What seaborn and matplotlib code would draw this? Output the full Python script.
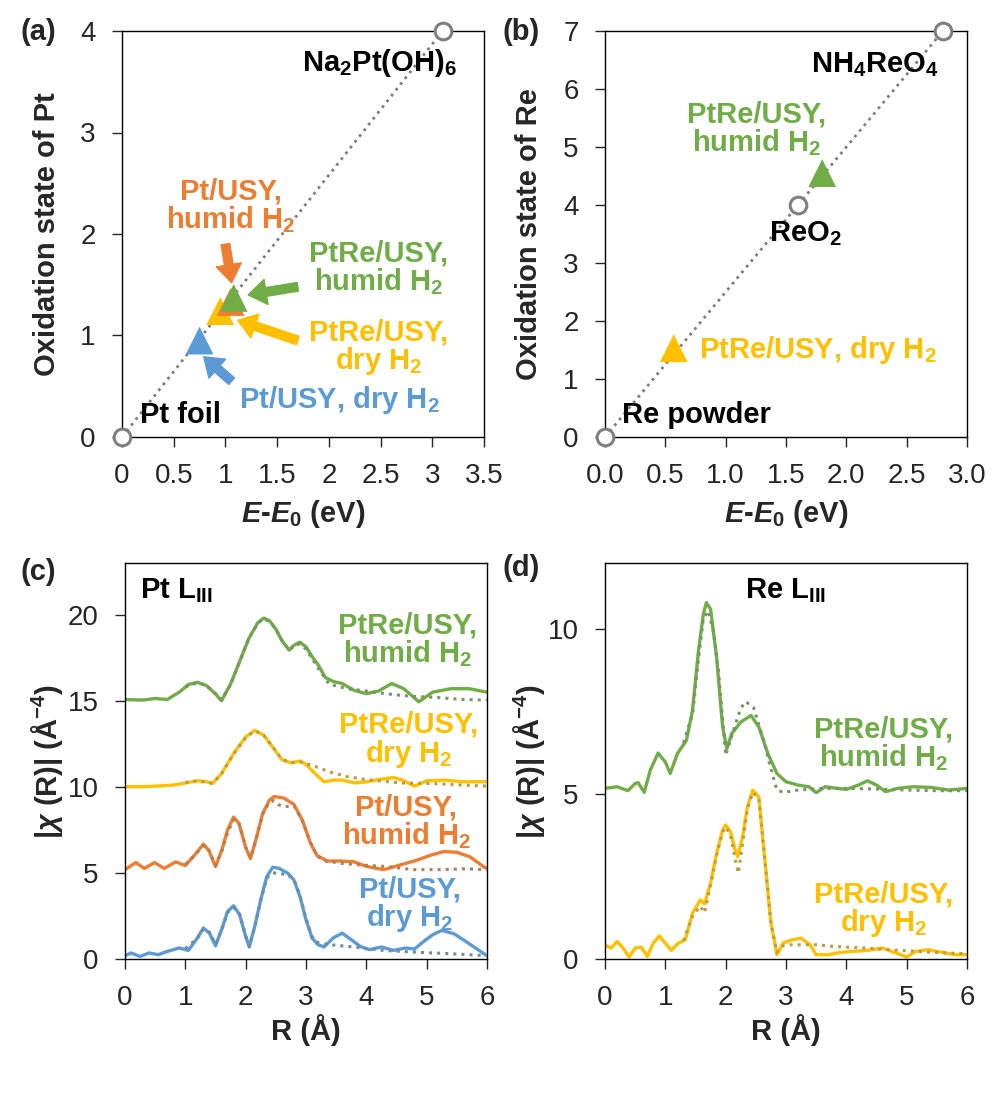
import numpy as np
import pandas as pd
import seaborn as sns
from matplotlib import pyplot as plt
from matplotlib.colors import to_rgb

sns.set_style('ticks')
plt.rcParams['font.family'] = ['Liberation Sans', 'DejaVu Sans']
plt.rcParams['mathtext.fontset'] = 'custom'
plt.rcParams['mathtext.rm'] = 'Liberation Sans:bold'
plt.rcParams['mathtext.it'] = 'Liberation Sans:italic:bold'
plt.rcParams['mathtext.bf'] = 'Liberation Sans:bold'
plt.rcParams['axes.linewidth'] = 1.0

GREEN = '#70AD47'
ORANGE = '#ED7D31'
YELLOW = '#FFC000'
BLUE = '#5B9BD5'
GRAY = '#7F7F7F'

# ---- (a) Pt L3 XANES: oxidation state vs edge shift
pt_ref_names = ['Pt foil', 'Na2Pt(OH)6']
pt_ref_e = [0.0, 3.1]
pt_ref_ox = [0.0, 4.0]
pt_samples = ['Pt/USY dry', 'PtRe/USY dry', 'Pt/USY humid', 'PtRe/USY humid']
pt_sample_e = [0.75, 0.95, 1.05, 1.08]
pt_sample_ox = [0.95, 1.24, 1.33, 1.37]

# ---- (b) Re L3 XANES
re_ref_names = ['Re powder', 'ReO2', 'NH4ReO4']
re_ref_e = [0.0, 1.6, 2.8]
re_ref_ox = [0.0, 4.0, 7.0]
re_samples = ['PtRe/USY dry', 'PtRe/USY humid']
re_sample_e = [0.57, 1.80]
re_sample_ox = [1.53, 4.55]

sample_colors = {'Pt/USY dry': BLUE, 'PtRe/USY dry': YELLOW,
                 'Pt/USY humid': ORANGE, 'PtRe/USY humid': GREEN}

# ---- (c) Pt L3 EXAFS |chi(R)|, offset curves (solid = data, dotted = fit)
c_green_r = [0.0, 0.3, 0.5, 0.7, 0.9, 1.05, 1.2, 1.35, 1.5, 1.6, 1.75, 1.9, 2.05, 2.2, 2.3, 2.4, 2.5,
             2.6, 2.72, 2.8, 2.9, 3.0, 3.1, 3.2, 3.32, 3.45, 3.6, 3.8, 4.0, 4.2, 4.42, 4.62, 4.87,
             5.1, 5.4, 5.7, 6.0]
c_green = [15.07, 15.04, 15.13, 15.07, 15.5, 15.94, 16.07, 15.88, 15.4, 15.0, 15.97, 17.28, 18.6,
           19.53, 19.8, 19.63, 19.16, 18.5, 17.94, 18.22, 18.4, 18.13, 17.57, 17.1, 16.35, 16.12,
           16.0, 15.6, 15.41, 15.56, 16.0, 15.7, 14.94, 15.5, 15.7, 15.7, 15.5]
c_green_fit_r = [1.0, 1.2, 1.35, 1.5, 1.6, 1.75, 1.9, 2.05, 2.2, 2.3, 2.4, 2.5, 2.6, 2.72, 2.8, 2.9,
                 3.0, 3.1, 3.2, 3.38, 3.68, 4.0, 4.34, 4.73, 5.17, 5.61, 6.0]
c_green_fit = [15.8, 16.05, 15.88, 15.4, 15.05, 15.95, 17.25, 18.6, 19.5, 19.75, 19.6, 19.15, 18.5,
               17.95, 18.15, 18.3, 18.0, 17.45, 16.9, 15.97, 15.7, 15.56, 15.4, 15.26, 15.19,
               15.07, 15.04]

c_yellow_r = [0.0, 0.4, 0.8, 1.0, 1.2, 1.35, 1.45, 1.6, 1.8, 2.0, 2.15, 2.3, 2.45, 2.6, 2.75, 2.9,
              3.0, 3.15, 3.3, 3.45, 3.6, 3.8, 4.0, 4.2, 4.45, 4.6, 4.8, 5.0, 5.3, 5.6, 6.0]
c_yellow = [10.0, 10.02, 10.1, 10.22, 10.35, 10.3, 10.2, 10.77, 11.93, 12.9, 13.28, 13.0, 12.3,
            11.58, 11.39, 11.5, 11.31, 10.77, 10.29, 10.39, 10.39, 10.23, 10.29, 10.42, 10.54,
            10.39, 10.04, 10.35, 10.39, 10.29, 10.3]
c_yellow_fit_r = [1.0, 1.2, 1.45, 1.6, 1.8, 2.0, 2.15, 2.3, 2.45, 2.6, 2.75, 2.9, 3.0, 3.17, 3.39,
                  3.67, 4.0, 4.55, 5.1, 5.5, 6.0]
c_yellow_fit = [10.25, 10.35, 10.2, 10.75, 11.9, 12.85, 13.25, 13.0, 12.3, 11.6, 11.4, 11.45,
                11.35, 11.16, 10.87, 10.6, 10.42, 10.23, 10.19, 10.12, 10.04]

c_orange_r = [0.0, 0.04, 0.18, 0.32, 0.49, 0.65, 0.84, 1.0, 1.15, 1.3, 1.39, 1.5, 1.61, 1.7, 1.8,
              1.89, 2.0, 2.08, 2.17, 2.28, 2.39, 2.47, 2.63, 2.8, 2.94, 3.07, 3.18, 3.35, 3.57,
              3.79, 4.01, 4.29, 4.56, 4.84, 5.06, 5.28, 5.5, 5.72, 5.94, 6.0]
c_orange = [5.2, 5.28, 5.6, 5.26, 5.6, 5.26, 5.64, 5.43, 6.02, 6.67, 6.3, 5.37, 6.39, 7.5, 8.24,
            7.87, 6.48, 5.83, 6.94, 8.43, 9.2, 9.44, 9.35, 8.98, 8.06, 6.76, 6.02, 5.69, 5.69,
            5.65, 5.37, 5.19, 5.46, 5.74, 6.02, 6.24, 6.2, 5.93, 5.37, 5.24]
c_orange_fit_r = [1.0, 1.15, 1.3, 1.39, 1.5, 1.61, 1.7, 1.8, 1.89, 2.0, 2.08, 2.17, 2.28, 2.39,
                  2.47, 2.55, 2.65, 2.8, 2.94, 3.07, 3.18, 3.3, 3.6, 3.9, 4.34, 4.78, 5.22,
                  5.66, 6.0]
c_orange_fit = [5.5, 6.0, 6.6, 6.3, 5.45, 6.3, 7.35, 8.1, 7.85, 6.5, 5.9, 6.9, 8.4, 9.1, 9.2,
                8.95, 8.85, 8.9, 8.05, 6.8, 6.0, 5.7, 5.55, 5.46, 5.37, 5.19, 5.19, 5.24, 5.19]

c_blue_r = [0.0, 0.1, 0.25, 0.4, 0.55, 0.7, 0.9, 1.05, 1.2, 1.3, 1.4, 1.5, 1.6, 1.7, 1.8, 1.9,
            2.0, 2.06, 2.15, 2.25, 2.35, 2.45, 2.55, 2.7, 2.8, 2.9, 3.0, 3.1, 3.2, 3.3, 3.45,
            3.6, 3.75, 3.9, 4.05, 4.25, 4.45, 4.65, 4.8, 4.95, 5.1, 5.25, 5.45, 5.65, 5.85, 6.0]
c_blue = [0.19, 0.35, 0.15, 0.35, 0.25, 0.44, 0.64, 0.5, 1.22, 1.8, 1.5, 0.77, 1.7, 2.76, 3.09,
          2.57, 1.31, 0.7, 1.89, 3.44, 4.79, 5.33, 5.27, 4.98, 4.59, 3.63, 2.28, 1.22, 0.83,
          0.7, 1.22, 1.5, 1.12, 0.73, 0.54, 0.7, 0.5, 0.64, 0.58, 1.02, 1.41, 1.66, 1.47, 1.02,
          0.54, 0.19]
c_blue_fit_r = [1.0, 1.2, 1.3, 1.4, 1.5, 1.6, 1.7, 1.8, 1.9, 2.0, 2.06, 2.15, 2.25, 2.35, 2.45,
                2.55, 2.7, 2.8, 2.9, 3.0, 3.1, 3.2, 3.39, 3.78, 4.28, 4.83, 5.38, 6.0]
c_blue_fit = [0.6, 1.2, 1.75, 1.55, 0.85, 1.65, 2.7, 3.0, 2.6, 1.35, 0.75, 1.85, 3.4, 4.7, 5.0,
              4.98, 4.88, 4.6, 3.7, 2.35, 1.3, 0.95, 0.83, 0.7, 0.5, 0.39, 0.31, 0.19]

# ---- (d) Re L3 EXAFS
d_green_r = [0.0, 0.2, 0.38, 0.5, 0.55, 0.65, 0.75, 0.88, 1.0, 1.08, 1.2, 1.35, 1.45, 1.55, 1.63,
             1.68, 1.75, 1.85, 1.95, 2.02, 2.1, 2.25, 2.42, 2.55, 2.7, 2.85, 3.0, 3.2, 3.38, 3.5,
             3.65, 3.85, 4.0, 4.2, 4.35, 4.5, 4.65, 4.85, 5.1, 5.4, 5.7, 6.0]
d_green = [5.17, 5.22, 5.1, 5.32, 5.34, 5.05, 5.72, 6.24, 5.97, 5.62, 6.22, 6.63, 7.53, 9.35,
           10.45, 10.8, 10.6, 9.14, 7.03, 6.37, 6.83, 7.18, 7.38, 7.03, 6.22, 5.62, 5.37, 5.27,
           5.22, 5.04, 5.22, 5.17, 5.14, 5.27, 5.4, 5.27, 5.07, 5.17, 5.22, 5.2, 5.12, 5.17]
d_green_fit_r = [1.3, 1.45, 1.55, 1.63, 1.71, 1.8, 1.88, 2.0, 2.13, 2.25, 2.33, 2.46, 2.63, 2.74,
                 2.85, 2.96, 3.2, 3.6, 4.0, 4.5, 5.0, 5.5, 6.0]
d_green_fit = [6.55, 7.4, 9.1, 10.3, 10.55, 9.9, 8.74, 6.17, 6.93, 7.6, 7.8, 7.63, 6.63, 5.82,
               5.12, 5.05, 5.12, 5.17, 5.17, 5.15, 5.12, 5.1, 5.1]

d_yellow_r = [0.0, 0.1, 0.2, 0.3, 0.4, 0.5, 0.6, 0.7, 0.8, 0.9, 1.0, 1.1, 1.2, 1.33, 1.45, 1.58,
              1.65, 1.75, 1.85, 1.95, 2.0, 2.08, 2.15, 2.2, 2.28, 2.36, 2.45, 2.55, 2.65, 2.75,
              2.85, 2.95, 3.1, 3.25, 3.4, 3.5, 3.7, 3.9, 4.1, 4.35, 4.6, 4.8, 5.0, 5.15, 5.35,
              5.6, 5.8, 6.0]
d_yellow = [0.43, 0.33, 0.53, 0.33, 0.06, 0.33, 0.36, 0.08, 0.48, 0.7, 0.48, 0.26, 0.46, 0.58,
            1.39, 1.79, 1.67, 2.3, 3.2, 3.91, 4.06, 3.86, 3.35, 3.1, 3.7, 4.61, 5.12, 4.91, 3.0,
            1.09, 0.13, 0.48, 0.58, 0.63, 0.43, 0.13, 0.13, 0.2, 0.23, 0.26, 0.33, 0.2, 0.06,
            0.23, 0.28, 0.2, 0.13, 0.13]
d_yellow_fit_r = [1.3, 1.45, 1.58, 1.65, 1.75, 1.85, 1.95, 2.0, 2.08, 2.15, 2.21, 2.28, 2.36,
                  2.45, 2.55, 2.65, 2.75, 2.85, 2.95, 3.07, 3.51, 3.79, 4.34, 4.89, 5.45, 6.0]
d_yellow_fit = [0.55, 1.3, 1.6, 1.4, 2.25, 3.15, 3.85, 4.0, 3.75, 3.1, 2.6, 3.5, 4.55, 5.05,
                4.85, 3.0, 1.1, 0.2, 0.4, 0.43, 0.43, 0.38, 0.33, 0.26, 0.2, 0.16]


def fit_color(c):
    r, g, b = to_rgb(c)
    return (0.45 * r + 0.55 * 0.5, 0.45 * g + 0.55 * 0.5, 0.45 * b + 0.55 * 0.5)


def style_axes(ax):
    ax.tick_params(direction='out', length=7, width=1, pad=12, labelsize=20,
                   top=False, right=False)
    for s in ax.spines.values():
        s.set_visible(True)
        s.set_color('black')


LABEL_KW = dict(fontsize=21, fontweight='bold')
TXT_KW = dict(fontsize=21, fontweight='bold')
ARROW = 'simple,head_length=0.5,head_width=0.7,tail_width=0.24'

fig = plt.figure(figsize=(10, 10.94), dpi=100)
ax_a = fig.add_axes([0.122, 1 - 437 / 1094, 0.362, 406 / 1094])
ax_b = fig.add_axes([0.605, 1 - 437 / 1094, 0.362, 406 / 1094])
ax_c = fig.add_axes([0.125, 1 - 959 / 1094, 0.362, 396 / 1094])
ax_d = fig.add_axes([0.605, 1 - 959 / 1094, 0.362, 396 / 1094])

# ---------------- (a)
sns.lineplot(x=pt_ref_e, y=pt_ref_ox, ax=ax_a, color=GRAY, lw=2, linestyle=':', zorder=1)
ax_a.plot(pt_ref_e, pt_ref_ox, 'o', mfc='white', mec=GRAY, ms=12, mew=2.2,
          clip_on=False, zorder=5)
df_a = pd.DataFrame({'e': pt_sample_e, 'ox': pt_sample_ox, 'sample': pt_samples})
sns.scatterplot(data=df_a, x='e', y='ox', hue='sample', palette=sample_colors, marker='^',
                s=400, edgecolor='none', legend=False, ax=ax_a, zorder=3)
ax_a.set_xlim(0, 3.5)
ax_a.set_ylim(0, 4)
ax_a.set_xticks(np.arange(0, 3.51, 0.5))
ax_a.set_xticklabels(['0', '0.5', '1', '1.5', '2', '2.5', '3', '3.5'])
ax_a.set_yticks(range(5))
ax_a.set_xlabel(r'$E$-$E_0$ (eV)', **LABEL_KW)
ax_a.set_ylabel('Oxidation state of Pt', **LABEL_KW)
ax_a.xaxis.set_label_coords(0.5, -0.15)
ax_a.yaxis.set_label_coords(-0.168, 0.5)
style_axes(ax_a)

ax_a.text(2.49, 3.68, r'Na$_2$Pt(OH)$_6$', ha='center', va='center', color='black', **TXT_KW)
ax_a.text(0.57, 0.22, 'Pt foil', ha='center', va='center', color='black', **TXT_KW)
ax_a.text(1.05, 2.27, 'Pt/USY,\nhumid H$_2$', ha='center', va='center', color=ORANGE,
          linespacing=0.95, **TXT_KW)
ax_a.text(2.48, 1.66, 'PtRe/USY,\nhumid H$_2$', ha='center', va='center', color=GREEN,
          linespacing=0.95, **TXT_KW)
ax_a.text(2.48, 0.88, 'PtRe/USY,\ndry H$_2$', ha='center', va='center', color=YELLOW,
          linespacing=0.95, **TXT_KW)
ax_a.text(2.1, 0.36, 'Pt/USY, dry H$_2$', ha='center', va='center', color=BLUE, **TXT_KW)
for start, end, col in [((1.0, 1.9), (1.06, 1.52), ORANGE),
                        ((1.7, 1.48), (1.22, 1.40), GREEN),
                        ((1.7, 0.95), (1.12, 1.15), YELLOW),
                        ((1.06, 0.55), (0.79, 0.79), BLUE)]:
    ax_a.annotate('', xy=end, xytext=start,
                  arrowprops=dict(arrowstyle=ARROW, color=col, mutation_scale=26,
                                  shrinkA=0, shrinkB=0))

# ---------------- (b)
sns.lineplot(x=re_ref_e, y=re_ref_ox, ax=ax_b, color=GRAY, lw=2, linestyle=':', zorder=1)
ax_b.plot(re_ref_e, re_ref_ox, 'o', mfc='white', mec=GRAY, ms=12, mew=2.2,
          clip_on=False, zorder=5)
df_b = pd.DataFrame({'e': re_sample_e, 'ox': re_sample_ox, 'sample': re_samples})
sns.scatterplot(data=df_b, x='e', y='ox', hue='sample', palette=sample_colors, marker='^',
                s=400, edgecolor='none', legend=False, ax=ax_b, zorder=3)
ax_b.set_xlim(0, 3.0)
ax_b.set_ylim(0, 7)
ax_b.set_xticks(np.arange(0, 3.01, 0.5))
ax_b.set_xticklabels(['0.0', '0.5', '1.0', '1.5', '2.0', '2.5', '3.0'])
ax_b.set_yticks(range(8))
ax_b.set_xlabel(r'$E$-$E_0$ (eV)', **LABEL_KW)
ax_b.set_ylabel('Oxidation state of Re', **LABEL_KW)
ax_b.xaxis.set_label_coords(0.5, -0.15)
ax_b.yaxis.set_label_coords(-0.17, 0.5)
style_axes(ax_b)

ax_b.text(2.24, 6.42, r'NH$_4$ReO$_4$', ha='center', va='center', color='black', **TXT_KW)
ax_b.text(1.66, 3.5, r'ReO$_2$', ha='center', va='center', color='black', **TXT_KW)
ax_b.text(0.14, 0.38, 'Re powder', ha='left', va='center', color='black', **TXT_KW)
ax_b.text(1.26, 5.3, 'PtRe/USY,\nhumid H$_2$', ha='center', va='center', color=GREEN,
          linespacing=0.95, **TXT_KW)
ax_b.text(0.78, 1.5, 'PtRe/USY, dry H$_2$', ha='left', va='center', color=YELLOW, **TXT_KW)

# ---------------- (c)
for r, v, rf, vf, col in [(c_blue_r, c_blue, c_blue_fit_r, c_blue_fit, BLUE),
                          (c_orange_r, c_orange, c_orange_fit_r, c_orange_fit, ORANGE),
                          (c_yellow_r, c_yellow, c_yellow_fit_r, c_yellow_fit, YELLOW),
                          (c_green_r, c_green, c_green_fit_r, c_green_fit, GREEN)]:
    sns.lineplot(x=r, y=v, ax=ax_c, color=col, lw=2.4, sort=False, zorder=2)
    sns.lineplot(x=rf, y=vf, ax=ax_c, color=fit_color(col), lw=2.2, linestyle=':',
                 sort=False, zorder=3)
ax_c.set_xlim(0, 6)
ax_c.set_ylim(0, 23)
ax_c.set_xticks(range(7))
ax_c.set_yticks([0, 5, 10, 15, 20])
ax_c.set_xlabel('R (Å)', **LABEL_KW)
ax_c.set_ylabel(r'|$\chi$ (R)| (Å$^{\mathrm{-4}}$)', **LABEL_KW)
ax_c.xaxis.set_label_coords(0.5, -0.14)
ax_c.yaxis.set_label_coords(-0.165, 0.5)
style_axes(ax_c)
ax_c.text(0.25, 21.4, r'Pt L$_{\mathrm{III}}$', ha='left', va='center', color='black', **TXT_KW)
ax_c.text(4.68, 18.5, 'PtRe/USY,\nhumid H$_2$', ha='center', va='center', color=GREEN,
          linespacing=0.95, **TXT_KW)
ax_c.text(4.7, 12.7, 'PtRe/USY,\ndry H$_2$', ha='center', va='center', color=YELLOW,
          linespacing=0.95, **TXT_KW)
ax_c.text(4.66, 7.95, 'Pt/USY,\nhumid H$_2$', ha='center', va='center', color=ORANGE,
          linespacing=0.95, **TXT_KW)
ax_c.text(4.72, 3.15, 'Pt/USY,\ndry H$_2$', ha='center', va='center', color=BLUE,
          linespacing=0.95, **TXT_KW)

# ---------------- (d)
for r, v, rf, vf, col in [(d_yellow_r, d_yellow, d_yellow_fit_r, d_yellow_fit, YELLOW),
                          (d_green_r, d_green, d_green_fit_r, d_green_fit, GREEN)]:
    sns.lineplot(x=r, y=v, ax=ax_d, color=col, lw=2.4, sort=False, zorder=2)
    sns.lineplot(x=rf, y=vf, ax=ax_d, color=fit_color(col), lw=2.2, linestyle=':',
                 sort=False, zorder=3)
ax_d.set_xlim(0, 6)
ax_d.set_ylim(0, 12)
ax_d.set_xticks(range(7))
ax_d.set_yticks([0, 5, 10])
ax_d.set_xlabel('R (Å)', **LABEL_KW)
ax_d.set_ylabel(r'|$\chi$ (R)| (Å$^{\mathrm{-4}}$)', **LABEL_KW)
ax_d.xaxis.set_label_coords(0.5, -0.14)
ax_d.yaxis.set_label_coords(-0.16, 0.5)
style_axes(ax_d)
ax_d.text(3.0, 11.15, r'Re L$_{\mathrm{III}}$', ha='center', va='center', color='black',
          **TXT_KW)
ax_d.text(4.62, 6.5, 'PtRe/USY,\nhumid H$_2$', ha='center', va='center', color=GREEN,
          linespacing=0.95, **TXT_KW)
ax_d.text(4.62, 1.5, 'PtRe/USY,\ndry H$_2$', ha='center', va='center', color=YELLOW,
          linespacing=0.95, **TXT_KW)

# panel letters
for x, y, lab in [(0.02, 0.971, '(a)'), (0.503, 0.971, '(b)'),
                  (0.02, 0.477, '(c)'), (0.502, 0.481, '(d)')]:
    fig.text(x, y, lab, ha='left', va='center', fontsize=21, fontweight='bold')

fig.savefig('out.png', dpi=100)
